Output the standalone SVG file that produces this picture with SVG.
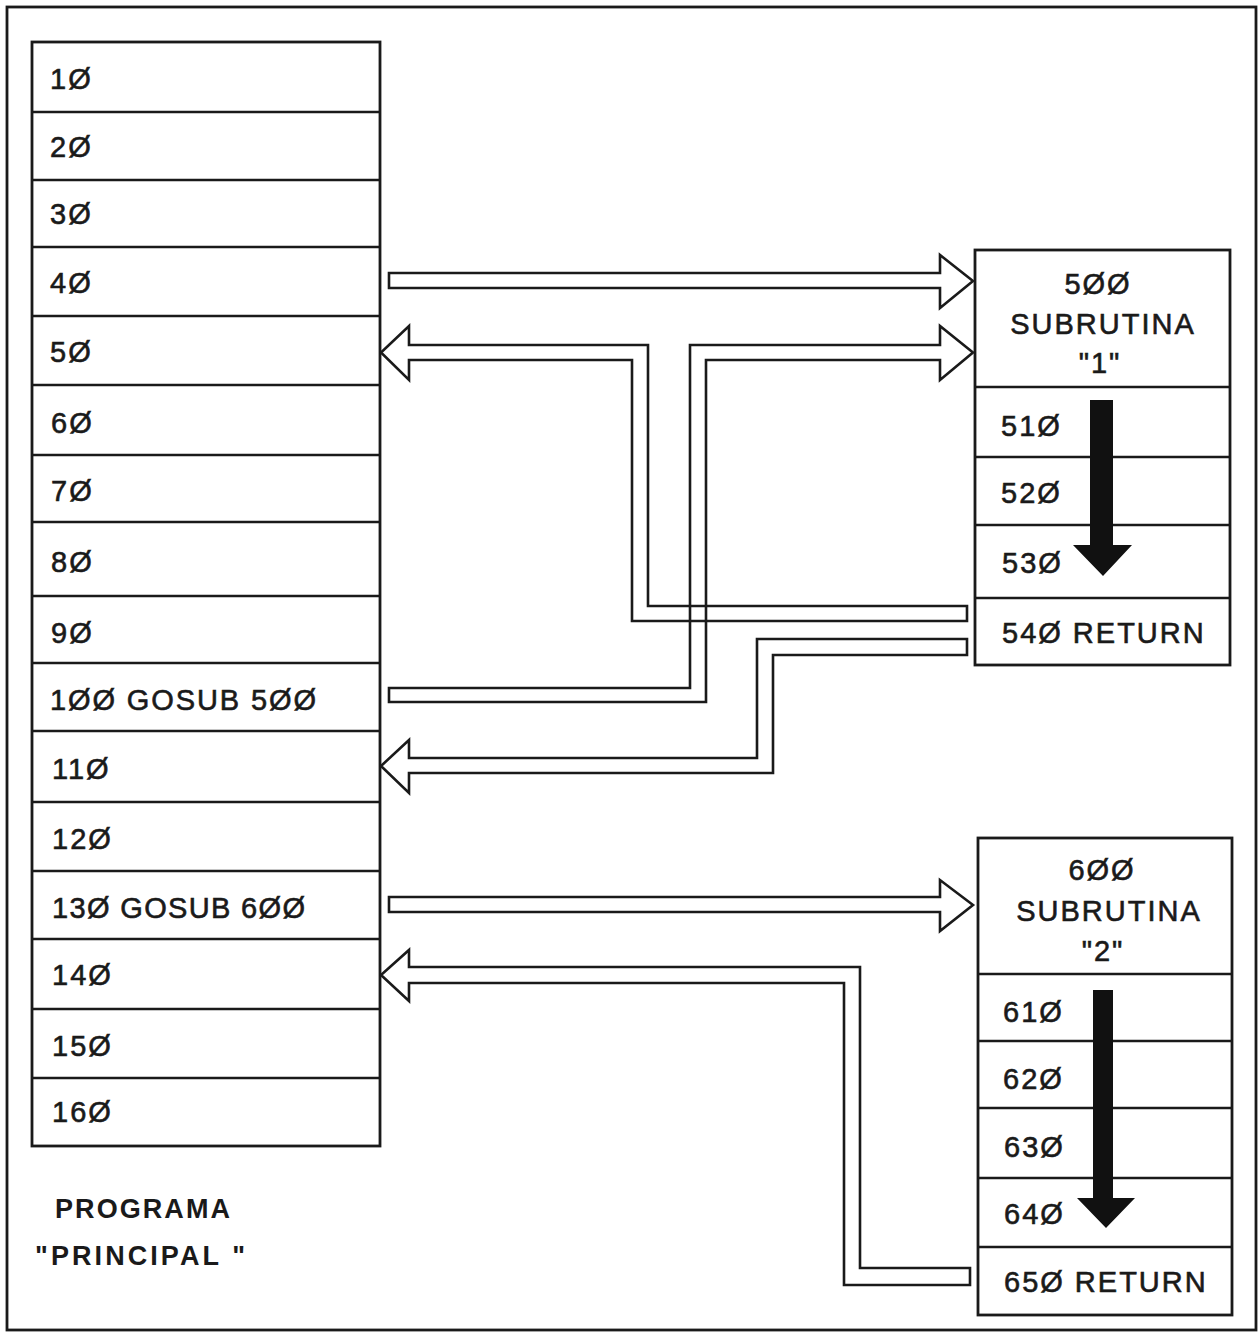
<svg xmlns="http://www.w3.org/2000/svg" width="1258" height="1333" viewBox="0 0 1258 1333">
<style>
.box{fill:none;stroke:#1a1a1a;stroke-width:2.8}
.ln{stroke:#1a1a1a;stroke-width:2.6}
.t{font-family:"Liberation Sans",Arial,sans-serif;font-size:29px;letter-spacing:2px;fill:#1a1a1a;stroke:#1a1a1a;stroke-width:0.6}
.c{text-anchor:middle}
.lab{font-family:"Liberation Sans",Arial,sans-serif;font-size:27px;font-weight:bold;fill:#1a1a1a}
.arr{fill:none;stroke:#1a1a1a;stroke-width:2.6;stroke-linejoin:miter}
.blk{fill:#111;stroke:none}
</style>
<rect x="0" y="0" width="1258" height="1333" fill="#fff"/>
<rect x="7" y="7" width="1249" height="1323" class="box" stroke-width="3"/>

<g id="programa-principal">
<rect x="32" y="42" width="348" height="1104" class="box"/>
<g class="ln">
<line x1="32" y1="112" x2="380" y2="112"/>
<line x1="32" y1="180" x2="380" y2="180"/>
<line x1="32" y1="247" x2="380" y2="247"/>
<line x1="32" y1="316" x2="380" y2="316"/>
<line x1="32" y1="385" x2="380" y2="385"/>
<line x1="32" y1="455" x2="380" y2="455"/>
<line x1="32" y1="522" x2="380" y2="522"/>
<line x1="32" y1="596" x2="380" y2="596"/>
<line x1="32" y1="663" x2="380" y2="663"/>
<line x1="32" y1="731" x2="380" y2="731"/>
<line x1="32" y1="802" x2="380" y2="802"/>
<line x1="32" y1="871" x2="380" y2="871"/>
<line x1="32" y1="939" x2="380" y2="939"/>
<line x1="32" y1="1009" x2="380" y2="1009"/>
<line x1="32" y1="1078" x2="380" y2="1078"/>
</g>
<text class="t" x="50" y="89">1Ø</text>
<text class="t" x="50" y="157">2Ø</text>
<text class="t" x="50" y="224">3Ø</text>
<text class="t" x="50" y="293">4Ø</text>
<text class="t" x="50" y="362">5Ø</text>
<text class="t" x="51" y="433">6Ø</text>
<text class="t" x="51" y="501">7Ø</text>
<text class="t" x="51" y="572">8Ø</text>
<text class="t" x="51" y="643">9Ø</text>
<text class="t" x="50" y="710" textLength="268" lengthAdjust="spacing">1ØØ GOSUB 5ØØ</text>
<text class="t" x="52" y="779">11Ø</text>
<text class="t" x="52" y="849">12Ø</text>
<text class="t" x="52" y="918" textLength="255" lengthAdjust="spacing">13Ø GOSUB 6ØØ</text>
<text class="t" x="52" y="985">14Ø</text>
<text class="t" x="52" y="1056">15Ø</text>
<text class="t" x="52" y="1122">16Ø</text>
</g>

<g id="label-programa">
<text class="lab" x="55" y="1218" textLength="175" lengthAdjust="spacing">PROGRAMA</text>
<text class="lab" x="35" y="1265" textLength="210" lengthAdjust="spacing">"PRINCIPAL "</text>
</g>

<g id="subrutina-1">
<rect x="975" y="250" width="255" height="415" class="box"/>
<g class="ln">
<line x1="975" y1="387" x2="1230" y2="387"/>
<line x1="975" y1="457" x2="1230" y2="457"/>
<line x1="975" y1="525" x2="1230" y2="525"/>
<line x1="975" y1="598" x2="1230" y2="598"/>
</g>
<text class="t c" x="1098" y="294" letter-spacing="5">5ØØ</text>
<text class="t c" x="1103" y="334">SUBRUTINA</text>
<text class="t c" x="1100" y="373">"1"</text>
<text class="t" x="1001" y="436">51Ø</text>
<text class="t" x="1001" y="503">52Ø</text>
<text class="t" x="1002" y="573">53Ø</text>
<text class="t" x="1002" y="643">54Ø RETURN</text>
<polygon class="blk" points="1090,400 1113,400 1113,545 1132,545 1103,576 1073,545 1090,545"/>
</g>

<g id="subrutina-2">
<rect x="978" y="838" width="254" height="477" class="box"/>
<g class="ln">
<line x1="978" y1="974" x2="1232" y2="974"/>
<line x1="978" y1="1041" x2="1232" y2="1041"/>
<line x1="978" y1="1108" x2="1232" y2="1108"/>
<line x1="978" y1="1178" x2="1232" y2="1178"/>
<line x1="978" y1="1247" x2="1232" y2="1247"/>
</g>
<text class="t c" x="1102" y="880" letter-spacing="5">6ØØ</text>
<text class="t c" x="1109" y="921">SUBRUTINA</text>
<text class="t c" x="1103" y="961">"2"</text>
<text class="t" x="1003" y="1022">61Ø</text>
<text class="t" x="1003" y="1089">62Ø</text>
<text class="t" x="1004" y="1157">63Ø</text>
<text class="t" x="1004" y="1224">64Ø</text>
<text class="t" x="1004" y="1292">65Ø RETURN</text>
<polygon class="blk" points="1093,990 1113,990 1113,1198 1135,1198 1106,1228 1077,1198 1093,1198"/>
</g>

<g id="connectors">
<path class="arr" d="M389,273 H940 V255 L973,281 L940,308 V288 H389 Z"/>
<path class="arr" d="M409,345 H648 V606 H967 V621 H632 V360 H409 V380 L381,352.5 L409,326 Z"/>
<path class="arr" d="M389,688 H690 V345 H940 V326 L973,352.5 L940,380 V360 H706 V702 H389 Z"/>
<path class="arr" d="M967,639 H757 V758 H409 V740 L381,766 L409,793 V773 H773 V655 H967 Z"/>
<path class="arr" d="M389,897 H940 V880 L973,905 L940,931 V912 H389 Z"/>
<path class="arr" d="M970,1268 H860 V967 H409 V950 L381,975 L409,1001 V983 H844 V1285 H970 Z"/>
</g>
</svg>
